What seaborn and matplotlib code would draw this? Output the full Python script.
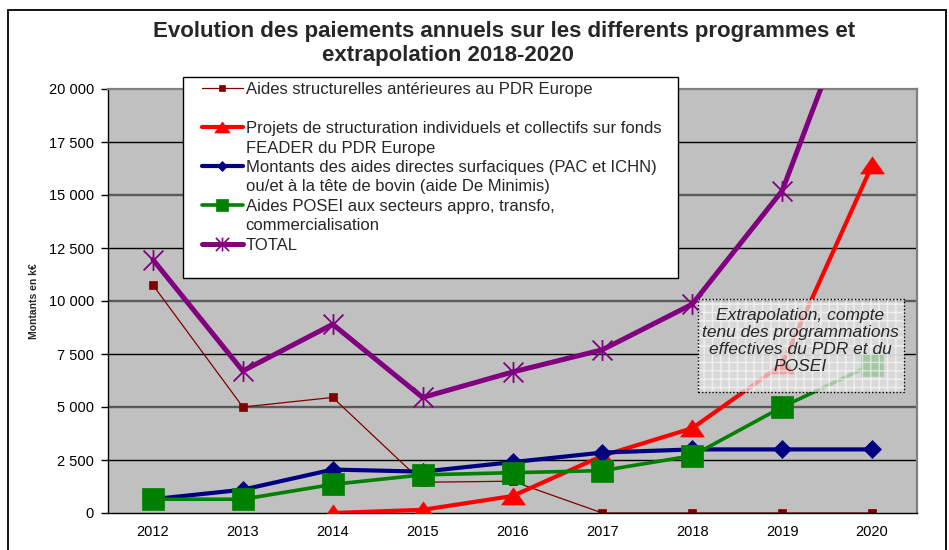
import matplotlib
matplotlib.use("Agg")
import matplotlib.pyplot as plt
from matplotlib.legend_handler import HandlerLine2D
from matplotlib.lines import Line2D
from matplotlib.patches import Rectangle
from matplotlib.path import Path
from matplotlib.ticker import FuncFormatter
import numpy as np
import pandas as pd
import seaborn as sns

annees = [2012, 2013, 2014, 2015, 2016, 2017, 2018, 2019, 2020]
aides_structurelles = [10750, 5000, 5450, 1450, 1500, 0, 0, 0, 0]
projets_feader = [np.nan, np.nan, 0, 150, 800, 2700, 4000, 7000, 16400]
aides_directes = [650, 1100, 2050, 1950, 2400, 2850, 3000, 3000, 3000]
aides_posei = [650, 650, 1350, 1800, 1900, 2000, 2700, 5000, 7000]
total = [11950, 6700, 8900, 5450, 6650, 7700, 9850, 15200, 26400]

series = ["structurelles", "feader", "directes", "posei", "total"]
legende = [
    ["Aides structurelles antérieures au PDR Europe", ""],
    ["Projets de structuration individuels et collectifs sur fonds",
     "FEADER du PDR Europe"],
    ["Montants des aides directes surfaciques (PAC et ICHN)",
     "ou/et à la tête de bovin (aide De Minimis)"],
    ["Aides POSEI aux secteurs appro, transfo,", "commercialisation"],
    ["TOTAL"],
]

df = pd.DataFrame({"annee": annees,
                   "structurelles": aides_structurelles,
                   "feader": projets_feader,
                   "directes": aides_directes,
                   "posei": aides_posei,
                   "total": total})
long = df.melt(id_vars="annee", var_name="serie", value_name="montant")

# marker shapes
triangle = Path([(0, 0.72), (-1, -0.72), (1, -0.72), (0, 0.72)],
                [Path.MOVETO, Path.LINETO, Path.LINETO, Path.CLOSEPOLY])
etoile = Path([(-1, -1), (1, 1), (-1, 1), (1, -1), (0, -1.05), (0, 1.05)],
              [Path.MOVETO, Path.LINETO] * 3)

styles = {
    "structurelles": dict(color="#800000", lw=0.9, marker="s", ms=5.5,
                          leg_ms=5),
    "feader": dict(color="#FF0000", lw=3, marker=triangle, ms=17,
                   leg_ms=11),
    "directes": dict(color="#000080", lw=3, marker="D", ms=9.5, leg_ms=5.5),
    "posei": dict(color="#008000", lw=2.6, marker="s", ms=16, leg_ms=9),
    "total": dict(color="#800080", lw=3.6, marker=etoile, ms=15,
                  leg_ms=10),
}

sns.set_style("white")
plt.rcParams["font.family"] = ["Liberation Sans", "DejaVu Sans"]

fig = plt.figure(figsize=(9.49, 5.5), dpi=100)
ax = fig.add_axes([108 / 949, 1 - 513 / 550, 809 / 949, 424 / 550])
ax.set_facecolor("#C0C0C0")

for v in range(2500, 20000, 2500):
    major = v % 5000 == 0
    ax.axhline(v, color="#5a5a5a" if major else "black",
               lw=1.7 if major else 1.0, zorder=0.5)

for i, s in enumerate(series):
    st = styles[s]
    etoile_like = s == "total"
    sns.lineplot(data=long[long.serie == s], x="annee", y="montant", ax=ax,
                 color=st["color"], lw=st["lw"], marker=st["marker"],
                 ms=st["ms"], mec=st["color"],
                 mfc="none" if etoile_like else st["color"],
                 mew=1.3 if etoile_like else 0.5,
                 legend=False, zorder=2 + i)

ax.set_xlim(2011.5, 2020.5)
ax.set_ylim(0, 20000)
ax.set_xlabel("")
ax.set_ylabel("Montants en k€", fontsize=7.5, fontweight="bold", labelpad=7)

ax.set_xticks(annees)
ax.set_xticks(np.arange(2011.5, 2021, 1), minor=True)
ax.tick_params(axis="x", which="major", length=0, pad=9, labelsize=10.5,
               colors="black")
ax.tick_params(axis="x", which="minor", length=5, width=1, color="black",
               direction="out")
ax.set_yticks(range(0, 20001, 2500))
ax.yaxis.set_major_formatter(
    FuncFormatter(lambda v, p: f"{v:,.0f}".replace(",", " ")))
ax.tick_params(axis="y", length=5, width=1, pad=5, labelsize=10.5,
               colors="black", direction="out", left=True)

for side in ["left", "bottom"]:
    ax.spines[side].set_color("black")
    ax.spines[side].set_linewidth(1)
for side in ["top", "right"]:
    ax.spines[side].set_color("#808080")
    ax.spines[side].set_linewidth(1.6)

# legend: one row per text line so handles sit on the first line
handles, labels = [], []
for s, lignes in zip(series, legende):
    st = styles[s]
    etoile_like = s == "total"
    handles.append(Line2D([], [], color=st["color"], lw=st["lw"],
                          marker=st["marker"], ms=st["leg_ms"],
                          mec=st["color"],
                          mfc="none" if etoile_like else st["color"],
                          mew=1.2 if etoile_like else 0.5))
    labels.append(lignes[0])
    for extra in lignes[1:]:
        handles.append(Line2D([], [], color="none"))
        labels.append(extra)
handles.append(Line2D([], [], color="none"))
labels.append("")

leg = ax.legend(handles, labels, loc="upper left",
                bbox_to_anchor=(183 / 949, 1 - 275 / 550, 495 / 949,
                                198 / 550),
                bbox_transform=fig.transFigure, mode="expand",
                borderaxespad=0, fontsize=12, handlelength=3.27,
                handletextpad=0.18, labelspacing=0.27, borderpad=0.3,
                numpoints=1, frameon=True, fancybox=False, framealpha=1,
                handler_map={Line2D: HandlerLine2D(xpad=0.82)})
leg.get_frame().set_edgecolor("black")
leg.get_frame().set_linewidth(1)
leg.get_frame().set_facecolor("white")
leg.set_zorder(10)

# extrapolation note
box = dict(xy=(0.729, 0.285), width=0.255, height=0.219,
           transform=ax.transAxes)
ax.add_patch(Rectangle(**box, facecolor="#E4E4E4", alpha=0.72,
                       edgecolor="none", zorder=8))
ax.add_patch(Rectangle(**box, facecolor="none", edgecolor="white",
                       hatch="++", lw=0, alpha=0.6, zorder=8.2))
ax.add_patch(Rectangle(**box, facecolor="none", edgecolor="black",
                       lw=1, linestyle=(0, (1, 1.5)), zorder=8.5))
ax.text(0.856, 0.405,
        "Extrapolation, compte\ntenu des programmations\n"
        "effectives du PDR et du\nPOSEI",
        transform=ax.transAxes, ha="center", va="center", style="italic",
        fontsize=12.5, linespacing=1.17, zorder=9)

fig.text(504 / 949, 1 - 32 / 550,
         "Evolution des paiements annuels sur les differents programmes et",
         ha="center", va="center", fontsize=16, fontweight="bold")
fig.text(448 / 949, 1 - 56 / 550, "extrapolation 2018-2020",
         ha="center", va="center", fontsize=16, fontweight="bold")

fig.patches.append(Rectangle((8 / 949, -0.05), 938 / 949, 1.05 - 10 / 550,
                             transform=fig.transFigure, fill=False,
                             edgecolor="black", lw=1.3))

fig.savefig("out.png", dpi=100)
